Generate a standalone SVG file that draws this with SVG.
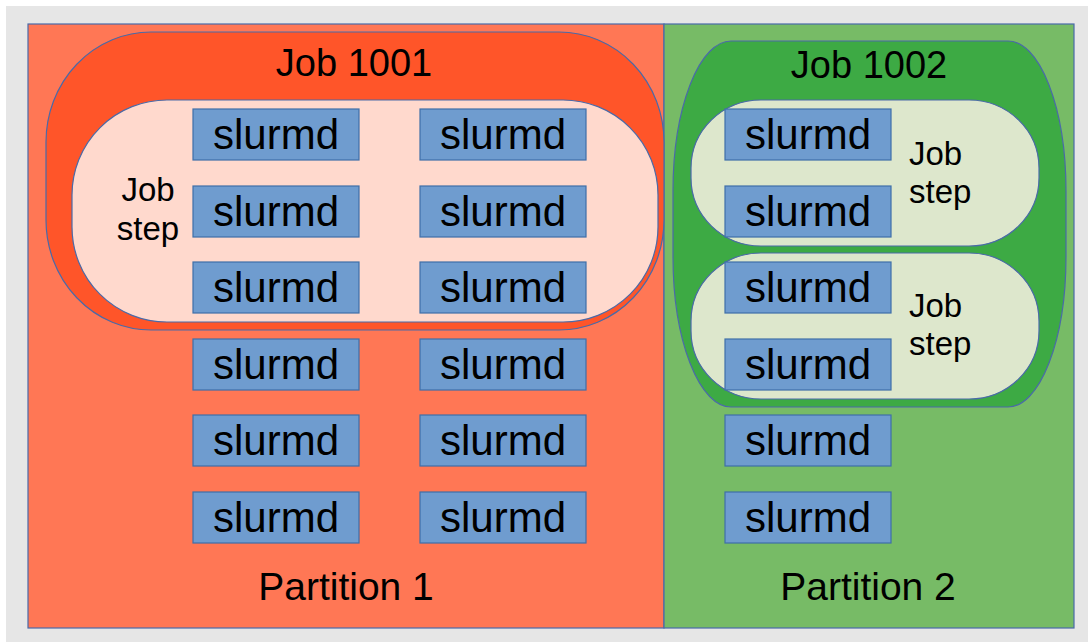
<svg xmlns="http://www.w3.org/2000/svg" width="1088" height="642" viewBox="0 0 1088 642">
<style>
.box{fill:#6f9ccf;stroke:#3f6fa8;stroke-width:1.2}
.t{font-family:"Liberation Sans",Arial,sans-serif;fill:#000}
.sl{font-size:42px;text-anchor:middle}
.job{font-size:38px;text-anchor:middle}
.step{font-size:33px}
.part{font-size:39px;text-anchor:middle}
.outl{stroke:#4a6aa8;stroke-width:1.2}
</style>
<rect x="0" y="0" width="1088" height="642" fill="#ffffff"/>
<rect x="6" y="6" width="1082" height="636" fill="#e6e6e6"/>

<g id="partition1">
<rect class="outl" x="28" y="24" width="636" height="604" fill="#ff7755"/>
<text class="t part" x="346" y="600">Partition 1</text>
</g>
<g id="partition2">
<rect class="outl" x="664" y="24" width="410" height="604" fill="#77bb66"/>
<text class="t part" x="868" y="600">Partition 2</text>
</g>

<g id="job1001">
<rect class="outl" x="46" y="32" width="618" height="298" rx="105" ry="110" fill="#ff5529"/>
<text class="t job" x="354" y="76">Job 1001</text>
</g>
<g id="jobstep1001">
<rect class="outl" x="72" y="100" width="586" height="222" rx="95" ry="95" fill="#ffd9cd"/>
<text class="t step" x="148" y="201" text-anchor="middle">Job</text>
<text class="t step" x="148" y="240" text-anchor="middle">step</text>
</g>

<g id="job1002">
<rect class="outl" x="673" y="41" width="393" height="366" rx="58" ry="150" fill="#3daa44"/>
<text class="t job" x="869" y="78">Job 1002</text>
</g>
<g id="jobstep1002a">
<rect class="outl" x="691" y="100" width="348" height="146" rx="70" ry="68" fill="#dde7cc"/>
<text class="t step" x="909" y="165">Job</text>
<text class="t step" x="909" y="203">step</text>
</g>
<g id="jobstep1002b">
<rect class="outl" x="691" y="253" width="348" height="146" rx="70" ry="68" fill="#dde7cc"/>
<text class="t step" x="909" y="317">Job</text>
<text class="t step" x="909" y="355">step</text>
</g>

<g id="nodes">
<g id="n1"><rect class="box" x="193" y="109" width="166" height="51"/><text class="t sl" x="276" y="149">slurmd</text></g>
<g id="n2"><rect class="box" x="420" y="109" width="166" height="51"/><text class="t sl" x="503" y="149">slurmd</text></g>
<g id="n3"><rect class="box" x="725" y="109" width="166" height="51"/><text class="t sl" x="808" y="149">slurmd</text></g>
<g id="n4"><rect class="box" x="193" y="186" width="166" height="51"/><text class="t sl" x="276" y="226">slurmd</text></g>
<g id="n5"><rect class="box" x="420" y="186" width="166" height="51"/><text class="t sl" x="503" y="226">slurmd</text></g>
<g id="n6"><rect class="box" x="725" y="186" width="166" height="51"/><text class="t sl" x="808" y="226">slurmd</text></g>
<g id="n7"><rect class="box" x="193" y="262" width="166" height="51"/><text class="t sl" x="276" y="302">slurmd</text></g>
<g id="n8"><rect class="box" x="420" y="262" width="166" height="51"/><text class="t sl" x="503" y="302">slurmd</text></g>
<g id="n9"><rect class="box" x="725" y="262" width="166" height="51"/><text class="t sl" x="808" y="302">slurmd</text></g>
<g id="n10"><rect class="box" x="193" y="339" width="166" height="51"/><text class="t sl" x="276" y="379">slurmd</text></g>
<g id="n11"><rect class="box" x="420" y="339" width="166" height="51"/><text class="t sl" x="503" y="379">slurmd</text></g>
<g id="n12"><rect class="box" x="725" y="339" width="166" height="51"/><text class="t sl" x="808" y="379">slurmd</text></g>
<g id="n13"><rect class="box" x="193" y="415" width="166" height="51"/><text class="t sl" x="276" y="455">slurmd</text></g>
<g id="n14"><rect class="box" x="420" y="415" width="166" height="51"/><text class="t sl" x="503" y="455">slurmd</text></g>
<g id="n15"><rect class="box" x="725" y="415" width="166" height="51"/><text class="t sl" x="808" y="455">slurmd</text></g>
<g id="n16"><rect class="box" x="193" y="492" width="166" height="51"/><text class="t sl" x="276" y="532">slurmd</text></g>
<g id="n17"><rect class="box" x="420" y="492" width="166" height="51"/><text class="t sl" x="503" y="532">slurmd</text></g>
<g id="n18"><rect class="box" x="725" y="492" width="166" height="51"/><text class="t sl" x="808" y="532">slurmd</text></g>
</g>
<g id="connectors"></g>
</svg>
